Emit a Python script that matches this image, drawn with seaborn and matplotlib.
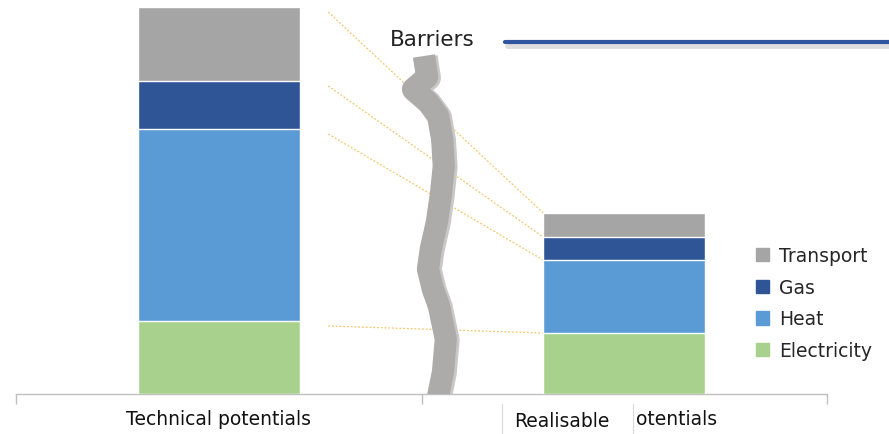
import matplotlib
matplotlib.use("Agg")
import matplotlib.pyplot as plt
from matplotlib.lines import Line2D
import seaborn as sns
import pandas as pd
import numpy as np

# --- data ---
categories = ["Technical potentials", "Realisable potentials"]
sectors = ["Electricity", "Heat", "Gas", "Transport"]
electricity = [73, 61]
heat = [192, 73]
gas = [48, 23]
transport = [74, 24]
colors = {"Electricity": "#A9D18E", "Heat": "#5B9BD5", "Gas": "#2F5597", "Transport": "#A5A5A5"}

# wavy "barrier" decoration, in data coords (x, y)
barrier_x = [0.506, 0.514, 0.479, 0.516, 0.541, 0.551, 0.555, 0.548, 0.538, 0.523,
             0.516, 0.528, 0.543, 0.560, 0.553, 0.541]
barrier_y = [338, 317, 305, 292, 278, 255, 228, 200, 172, 145, 125, 105, 88, 55, 22, -2]

df = pd.DataFrame({"Category": categories, "Electricity": electricity, "Heat": heat,
                   "Gas": gas, "Transport": transport})

sns.set_theme(style="white")
plt.rcParams['font.family'] = ['DejaVu Sans']

fig = plt.figure(figsize=(8.89, 4.35), dpi=100)
ax = fig.add_axes([16 / 889, 40 / 435, (827 - 16) / 889, 395 / 435])

# stacked bars, one seaborn call per layer
bottom = np.zeros(len(categories))
handles = []
for i, s in enumerate(sectors):
    sns.barplot(x=df["Category"], y=df[s] + bottom, color=colors[s], width=0.4,
                ax=ax, zorder=5 - i, saturation=1)
    bottom = bottom + df[s].values
    handles.append(plt.Rectangle((0, 0), 1, 1, color=colors[s]))

ax.set_xlim(-0.5, 1.5)
ax.set_ylim(0, 395)
ax.set_xlabel("")
ax.set_ylabel("")
ax.set_yticks([])
for sp in ["top", "left", "right"]:
    ax.spines[sp].set_visible(False)
ax.spines["bottom"].set_color("#BFBFBF")
ax.spines["bottom"].set_linewidth(1)

# category boundary ticks, labels placed separately
ax.set_xticks([-0.5, 0.5, 1.5])
ax.set_xticklabels([])
ax.tick_params(axis="x", direction="out", length=7, color="#BFBFBF", width=1, bottom=True)
lab_kw = dict(va="center", fontsize=13.5, color="#111111")
ax.text(0.0, -25, categories[0], ha="center", **lab_kw)
# second label is partly hidden behind a text box in the reference
first, second = categories[1].split()
ax.text(0.846, -27, first, ha="center", **lab_kw)
ax.text(1.028, -25, second[1:], ha="left", **lab_kw)
for xb in [0.699, 1.022]:
    ax.plot([xb, xb], [-10, -42], color="#D9D9D9", lw=0.8, clip_on=False)

# yellow dotted connectors between segment tops
tops1 = np.cumsum([electricity[0], heat[0], gas[0], transport[0]])
tops2 = np.cumsum([electricity[1], heat[1], gas[1], transport[1]])
for y1, y2 in zip(tops1, tops2):
    ax.plot([0.27, 0.8], [y1 - 5, y2], color="#F4C56A", lw=0.9, ls=(0, (1.5, 1.5)), zorder=1)

# barrier squiggle with a soft edge
ax.plot(np.array(barrier_x) + 0.004, np.array(barrier_y) - 1, color="#C9C7C7", lw=17.5,
        solid_joinstyle="round", solid_capstyle="butt", zorder=6)
ax.plot(barrier_x, barrier_y, color="#ADAAAA", lw=16, solid_joinstyle="round",
        solid_capstyle="butt", zorder=7)

# legend
leg = ax.legend(handles[::-1], sectors[::-1], loc="upper left", bbox_to_anchor=(756 / 889, 1 - 247 / 435),
                bbox_transform=fig.transFigure, frameon=False, fontsize=13.5,
                handlelength=0.7, handleheight=0.7, handletextpad=0.55, labelspacing=0.68,
                borderaxespad=0, borderpad=0)

# "Barriers" title with blue rule
fig.text(390 / 889, 1 - 40 / 435, "Barriers", ha="left", va="center", fontsize=15.5,
         color="#222222")
fig.add_artist(Line2D([507 / 889, 1.0], [1 - 47 / 435, 1 - 47 / 435], color="#DDDDDD", lw=3.5,
                      transform=fig.transFigure))
fig.add_artist(Line2D([505 / 889, 1.0], [1 - 43 / 435, 1 - 43 / 435], color="#2F55A0", lw=3,
                      transform=fig.transFigure))

fig.savefig("out.png", dpi=100)
